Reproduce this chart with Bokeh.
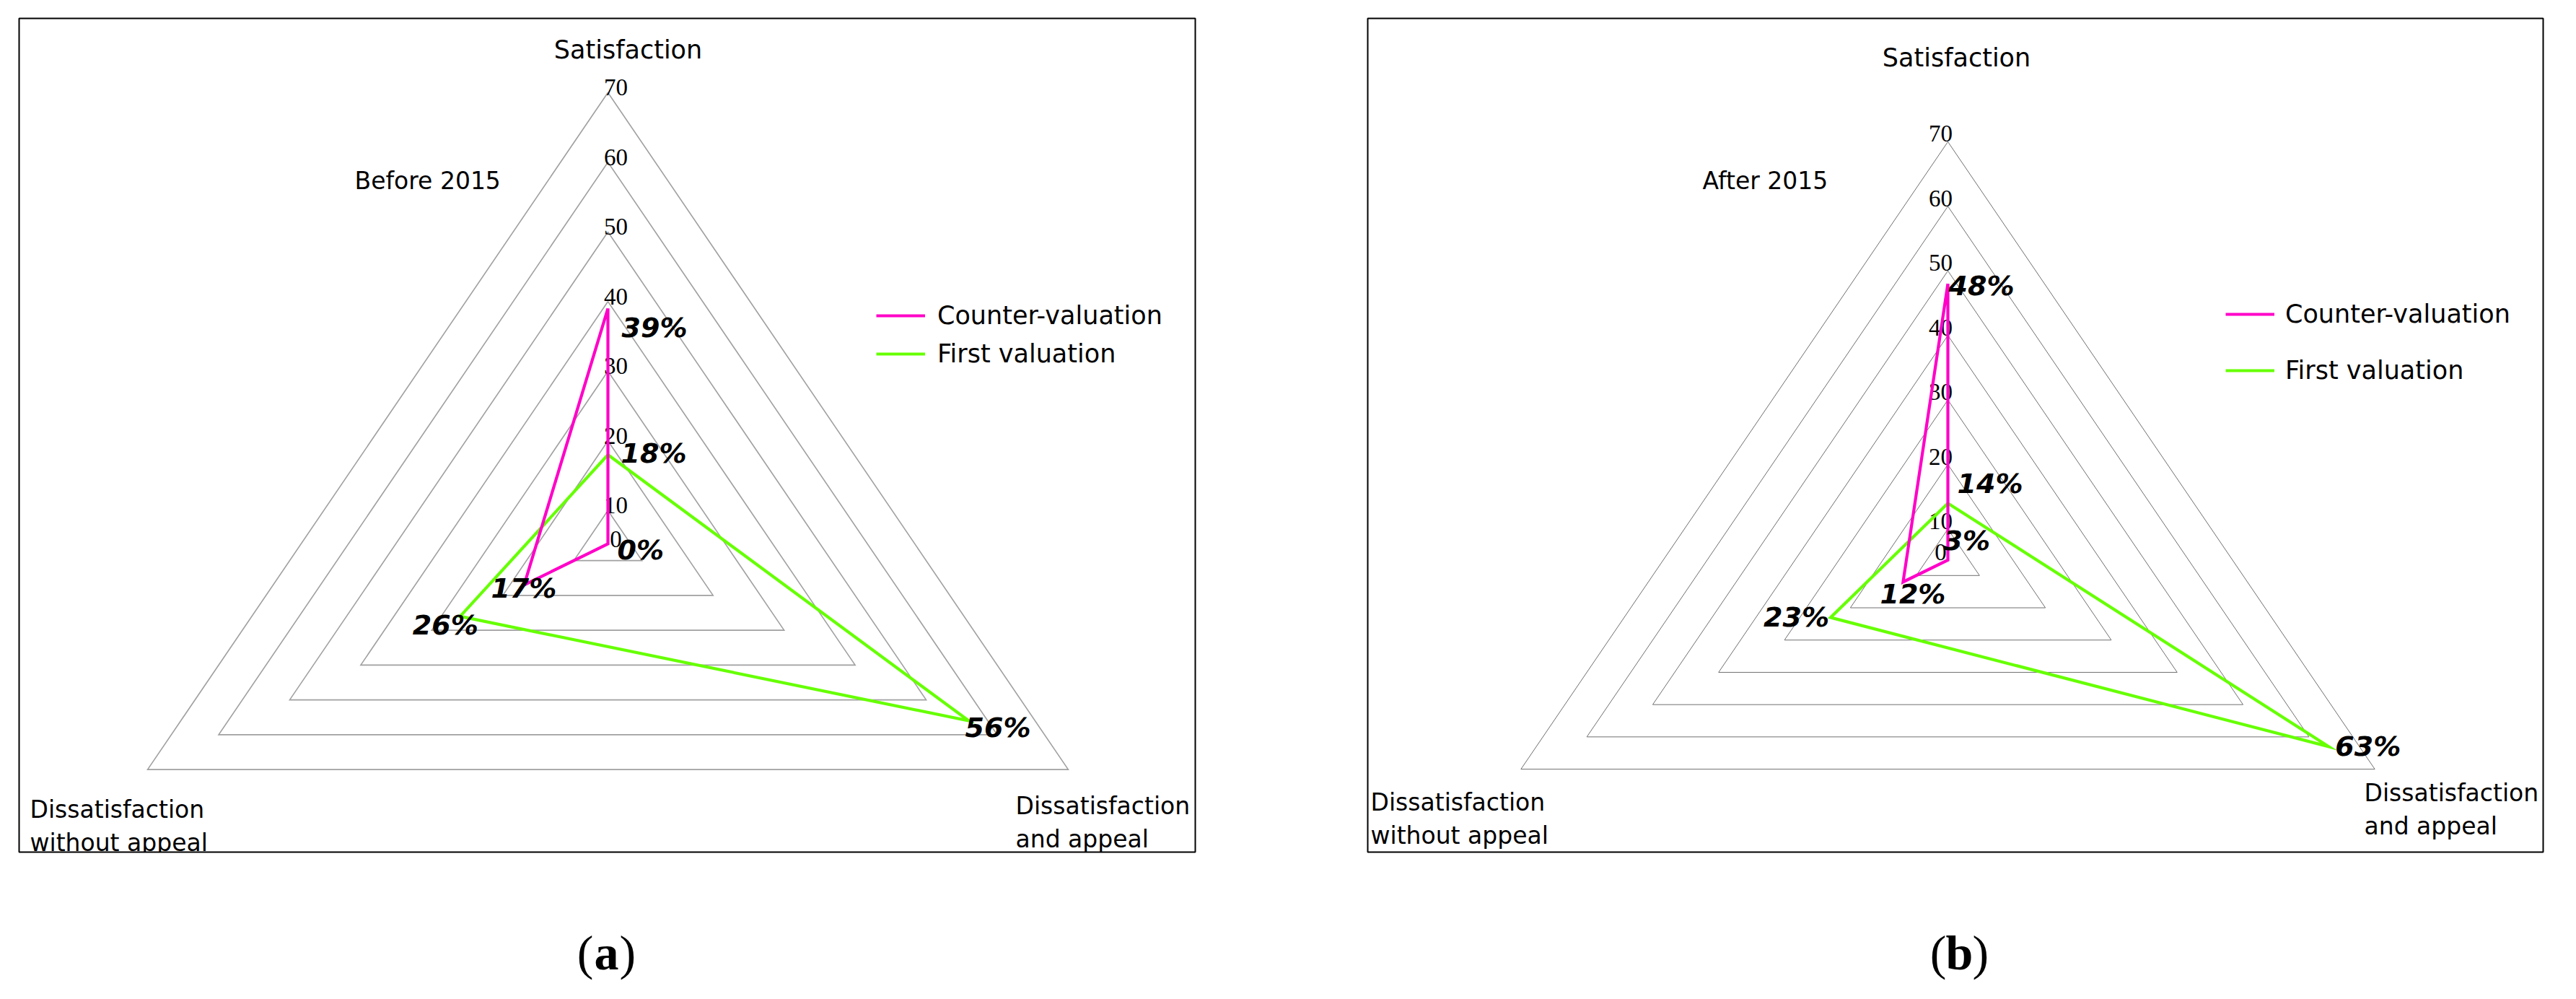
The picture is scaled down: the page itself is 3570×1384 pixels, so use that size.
import numpy as np
from bokeh.plotting import figure
from bokeh.models import Range1d, Legend, LegendItem, ColumnDataSource
from bokeh.layouts import column, row
from bokeh.embed import file_html
from bokeh.resources import INLINE
from bokeh.core.properties import value

# ---------------- data ----------------
categories = ["Satisfaction", "Dissatisfaction and appeal", "Dissatisfaction without appeal"]
series_names = ["Counter-valuation", "First valuation"]
before_counter = [39, 0, 17]
before_first = [18, 56, 26]
after_counter = [48, 3, 12]
after_first = [14, 63, 23]
grid_levels = [10, 20, 30, 40, 50, 60, 70]
tick_values = [0, 10, 20, 30, 40, 50, 60, 70]
tick_labels = ["0", "10", "20", "30", "40", "50", "60", "70"]
panel_titles = ["Before 2015", "After 2015"]
panel_letters = ["a", "b"]
axis_min = 5.2  # value sitting at the radar centre

# ---------------- style ----------------
PINK = "#ff00c8"
GREEN = "#66ff00"
SANS = value("DejaVu Sans")
SERIF = value("Liberation Serif")
ANG = np.deg2rad([90.0, -30.0, 210.0])
CAT_LINES = [["Satisfaction"], ["Dissatisfaction", "and appeal"], ["Dissatisfaction", "without appeal"]]


def radial(v):
    return np.maximum(np.asarray(v, dtype=float) - axis_min, 0.0)


def polar(vals):
    r = radial(vals)
    return list(r * np.cos(ANG)), list(r * np.sin(ANG))


LAYOUT = [
    dict(frame=(34, 33, 1664, 1188), border=(26, 25, 120, 20), center=(850, 761),
         scale=9.65, stretch=1.178, ring_color="#a0a0a0", ring_width=1.6,
         tick_dx=11, tick_dy=4,
         cat_pos=[(878, 76, "center"), (1415, 1124, "left"), (49, 1129, "left")],
         title_pos=(499, 258), legend_x=1222, legend_y=445, legend_gap=13, standoff=17,
         off_counter=[("left", 19, 27), ("left", 13, 8), ("right", 45, 5)],
         off_first=[("left", 18, -2), ("left", -5, 9), ("right", 25, 12)]),
    dict(frame=(1903, 33, 3532, 1189), border=(119, 25, 30, 19), center=(2707, 784),
         scale=8.95, stretch=1.178, ring_color="#707070", ring_width=1.0,
         tick_dx=-10, tick_dy=0,
         cat_pos=[(2719, 88, "center"), (3284, 1107, "left"), (1907, 1120, "left")],
         title_pos=(2367, 258), legend_x=3092, legend_y=444, legend_gap=38, standoff=15,
         off_counter=[("left", 1, 3), ("left", -6, -27), ("right", 59, 17)],
         off_first=[("left", 13, -27), ("left", 9, 0), ("right", -2, 0)]),
]


def make_panel(cfg, counter, first, title):
    fl, ft, fr, fb = cfg["frame"]
    bl, bt, br, bb = cfg["border"]
    cx, cy = cfg["center"]
    sy = cfg["scale"]
    sx = sy * cfg["stretch"]
    W, H = fr - fl, fb - ft

    p = figure(width=W + bl + br, height=H + bt + bb,
               x_range=Range1d(-(cx - fl) / sx, (fr - cx) / sx),
               y_range=Range1d(-(fb - cy) / sy, (cy - ft) / sy),
               x_axis_type=None, y_axis_type=None, toolbar_location=None,
               output_backend="svg", min_border=0,
               min_border_left=bl, min_border_top=bt, min_border_right=br, min_border_bottom=bb)
    p.outline_line_color = "black"
    p.outline_line_width = 2
    p.background_fill_color = "white"
    p.border_fill_color = "white"

    def to_data(px, py):
        return (px - cx) / sx, (cy - py) / sy

    # grid triangles
    xs, ys = [], []
    for lv in grid_levels:
        gx, gy = polar([lv] * 3)
        xs.append(gx + gx[:1])
        ys.append(gy + gy[:1])
    p.multi_line(xs, ys, line_color=cfg["ring_color"], line_width=cfg["ring_width"], line_join="miter")

    # tick labels on the satisfaction axis
    p.text(x=[0] * len(tick_values), y=list(radial(tick_values)), text=tick_labels,
           text_font=SERIF, text_font_size="33px", text_color="black",
           text_align="center", text_baseline="bottom",
           x_offset=cfg["tick_dx"], y_offset=cfg["tick_dy"])

    # series
    fx, fy = polar(first)
    rf = p.line(fx + fx[:1], fy + fy[:1], line_color=GREEN, line_width=4.2, line_join="miter")
    cxs, cys = polar(counter)
    rc = p.line(cxs + cxs[:1], cys + cys[:1], line_color=PINK, line_width=4.2, line_join="miter")

    # percentage labels
    lab = dict(x=[], y=[], text=[], align=[], dx=[], dy=[])
    for vals, offs in ((counter, cfg["off_counter"]), (first, cfg["off_first"])):
        px_, py_ = polar(vals)
        for i, v in enumerate(vals):
            a, dx, dy = offs[i]
            lab["x"].append(px_[i]); lab["y"].append(py_[i])
            lab["text"].append(f"{v}%"); lab["align"].append(a)
            lab["dx"].append(dx); lab["dy"].append(dy)
    p.text(x="x", y="y", text="text", source=ColumnDataSource(lab),
           text_font=SANS, text_font_style="bold italic", text_font_size="38px",
           text_color="black", text_align="align", text_baseline="middle",
           x_offset="dx", y_offset="dy")

    # category labels
    cat = dict(x=[], y=[], text=[], align=[], size=[])
    for (px, py, al), lines in zip(cfg["cat_pos"], CAT_LINES):
        for k, t in enumerate(lines):
            dxp, dyp = to_data(px, py + 46 * k)
            cat["x"].append(dxp); cat["y"].append(dyp)
            cat["text"].append(t); cat["align"].append(al)
            cat["size"].append("35px" if t == "Satisfaction" else "33px")
    tx, ty = to_data(*cfg["title_pos"])
    cat["x"].append(tx); cat["y"].append(ty); cat["text"].append(title)
    cat["align"].append("left"); cat["size"].append("33px")
    p.text(x="x", y="y", text="text", source=ColumnDataSource(cat),
           text_font=SANS, text_font_size="size", text_color="black",
           text_align="align", text_baseline="middle")

    # legend
    item_h = 40
    top = cfg["legend_y"] - item_h / 2
    bottom = top + 2 * item_h + cfg["legend_gap"]
    legend = Legend(items=[LegendItem(label=series_names[0], renderers=[rc]),
                           LegendItem(label=series_names[1], renderers=[rf])],
                    location=(cfg["legend_x"] - fl, fb - bottom),
                    border_line_color=None, background_fill_alpha=0,
                    padding=0, margin=0, spacing=cfg["legend_gap"],
                    glyph_width=68, glyph_height=item_h, label_height=item_h,
                    label_standoff=cfg["standoff"], label_text_font="DejaVu Sans",
                    label_text_font_size="35px", label_text_color="black")
    p.add_layout(legend)
    return p


pa = make_panel(LAYOUT[0], before_counter, before_first, panel_titles[0])
pb = make_panel(LAYOUT[1], after_counter, after_first, panel_titles[1])

# captions (a), (b)
cap = figure(width=3554, height=168, x_range=Range1d(8, 3562), y_range=Range1d(1376, 1208),
             x_axis_type=None, y_axis_type=None, toolbar_location=None,
             output_backend="svg", min_border=0)
cap.outline_line_color = None
cap_x = [848, 2723]
cap_base = [1327] * 2
cap.text(x=cap_x, y=cap_base, text=panel_letters, text_font=SERIF, text_font_style="bold",
         text_font_size="68px", text_align="center", text_baseline="alphabetic", text_color="black")
cap.text(x=cap_x, y=cap_base, text=["("] * 2, text_font=SERIF, text_font_size="68px",
         text_align="right", text_baseline="alphabetic", x_offset=-18, text_color="black")
cap.text(x=cap_x, y=cap_base, text=[")"] * 2, text_font=SERIF, text_font_size="68px",
         text_align="left", text_baseline="alphabetic", x_offset=18, text_color="black")

layout = column(row(pa, pb), cap)
open("out.html", "w").write(file_html(layout, INLINE))
